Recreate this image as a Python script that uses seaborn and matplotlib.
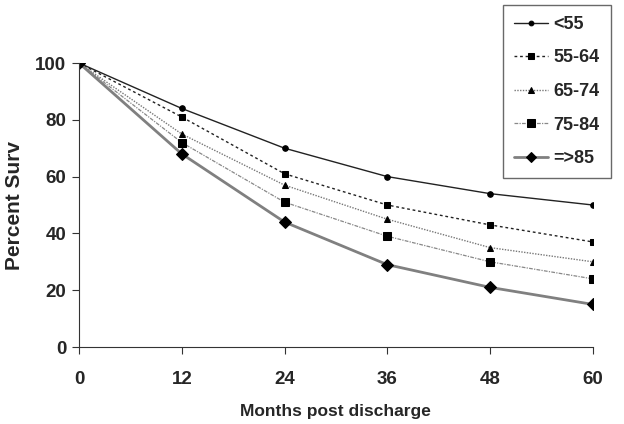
import numpy as np
import pandas as pd
import matplotlib
matplotlib.use("Agg")
import matplotlib.pyplot as plt
import seaborn as sns

# survival curves by age group
months = [0, 12, 24, 36, 48, 60]
groups = ["<55", "55-64", "65-74", "75-84", "=>85"]
surv_lt55 = [100, 84, 70, 60, 54, 50]
surv_55_64 = [100, 81, 61, 50, 43, 37]
surv_65_74 = [100, 75, 57, 45, 35, 30]
surv_75_84 = [100, 72, 51, 39, 30, 24]
surv_ge85 = [100, 68, 44, 29, 21, 15]

values = [surv_lt55, surv_55_64, surv_65_74, surv_75_84, surv_ge85]
df = pd.DataFrame({
    "Months": months * len(groups),
    "Surv": sum(values, []),
    "Group": np.repeat(groups, len(months)),
})

sns.set_style("white")
plt.rcParams["font.family"] = ["Liberation Sans", "DejaVu Sans"]
plt.rcParams["font.weight"] = "bold"

fig = plt.figure(figsize=(6.24, 4.24), dpi=100)
ax = fig.add_axes([0.1266, 0.1816, 0.8234, 0.6698])

styles = {
    "<55":   dict(color="#222222", ls="-", lw=1.0, marker="o", ms=4),
    "55-64": dict(color="#222222", ls=(0, (2, 2)), lw=1.0, marker="s", ms=4.5),
    "65-74": dict(color="#777777", ls=(0, (1, 1)), lw=1.0, marker="^", ms=5),
    "75-84": dict(color="#888888", ls=(0, (3, 1, 1, 1)), lw=0.9, marker="s", ms=6),
    "=>85":  dict(color="#808080", ls="-", lw=2.0, marker="D", ms=6.5),
}

for g in groups:
    st = styles[g]
    sns.lineplot(data=df[df["Group"] == g], x="Months", y="Surv", ax=ax,
                 color=st["color"], linestyle=st["ls"], linewidth=st["lw"],
                 marker=st["marker"], markersize=st["ms"],
                 markerfacecolor="black", markeredgecolor="black",
                 label=g)

ax.set_xlim(0, 60)
ax.set_ylim(0, 100)
ax.set_xticks(months)
ax.set_yticks([0, 20, 40, 60, 80, 100])
ax.tick_params(axis="both", labelsize=13.5, length=5, width=0.8,
               direction="out", bottom=True, left=True, color="#333333")
ax.tick_params(axis="x", pad=12)
ax.tick_params(axis="y", pad=4)
for lab in ax.get_xticklabels() + ax.get_yticklabels():
    lab.set_fontweight("bold")
for side in ["top", "right"]:
    ax.spines[side].set_visible(False)
for side in ["left", "bottom"]:
    ax.spines[side].set_color("#333333")
    ax.spines[side].set_linewidth(0.8)

ax.set_xlabel("Months post discharge", fontsize=12.5, fontweight="bold", labelpad=12)
ax.set_ylabel("Percent Surv", fontsize=15, fontweight="bold", labelpad=8)

leg = ax.legend(loc="upper left", bbox_to_anchor=(503 / 624, 1 - 5 / 424),
                bbox_transform=fig.transFigure, frameon=True, fancybox=False,
                prop={"size": 13, "weight": "bold"}, handlelength=1.9,
                labelspacing=0.92, borderpad=0.6, handletextpad=0.3,
                borderaxespad=0, markerscale=0.85)
leg.get_frame().set_edgecolor("#444444")
leg.get_frame().set_linewidth(1.0)

fig.savefig("out.png", dpi=100)
